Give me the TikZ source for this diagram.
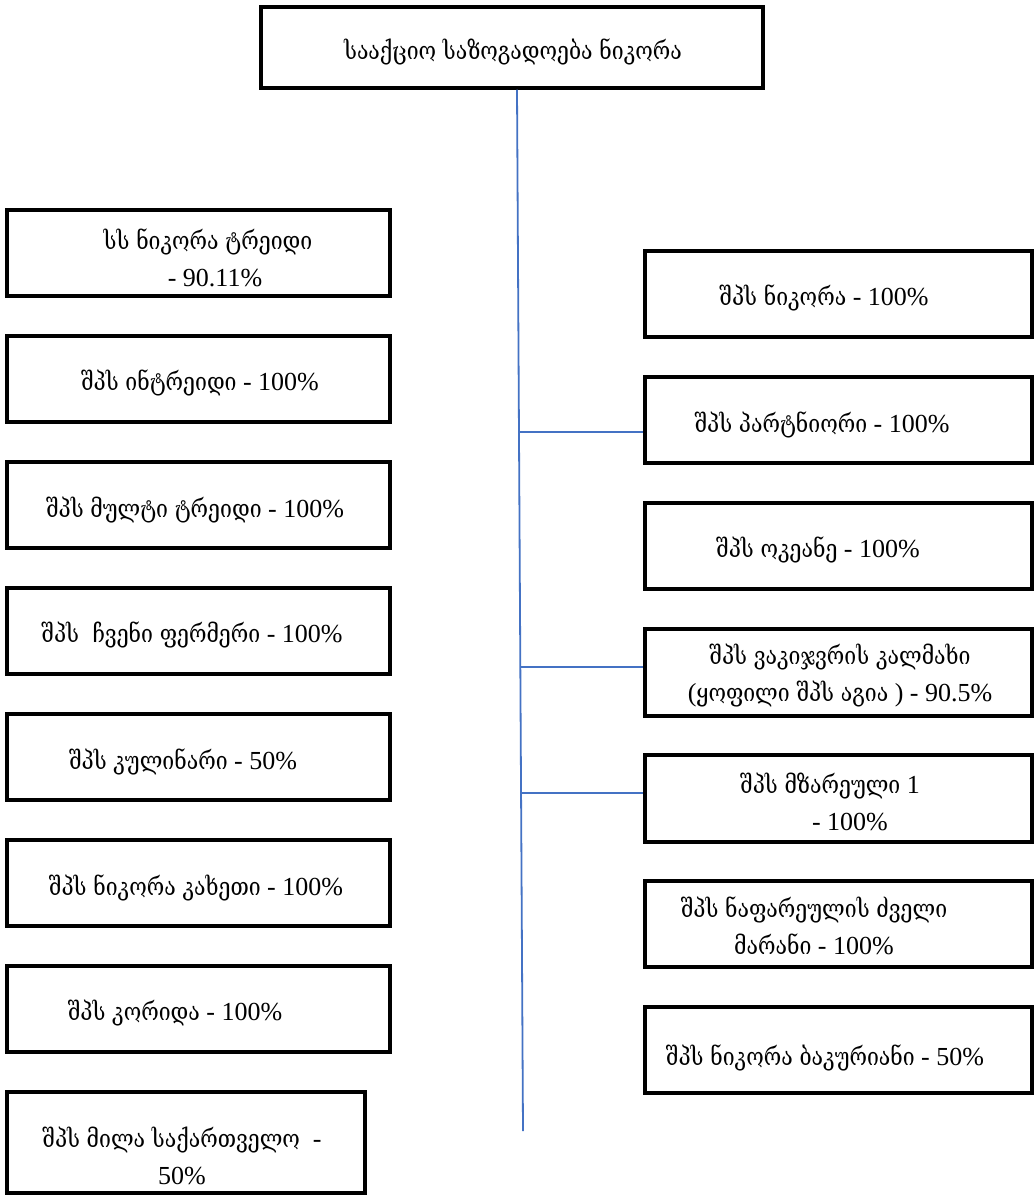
\documentclass[tikz,border=0pt]{standalone}
\usepackage{fontspec}
\setmainfont{Liberation Serif}
\newfontfamily\geoserif[Scale=0.95,FakeStretch=0.86]{DejaVu Serif}
\newfontfamily\geosans[Scale=0.95,FakeStretch=0.86]{DejaVu Sans}
\newcommand\geo{\geoserif\iffontchar\font"10D0 \else\geosans\fi}
\definecolor{linkblue}{RGB}{68,114,196}
\begin{document}
\begin{tikzpicture}[x=1pt,y=-1pt,
  box/.style={draw=black, line width=3.5pt, rectangle, inner sep=0pt},
  lbox/.style={box, minimum width=383pt, minimum height=86pt},
  rbox/.style={box, minimum width=387pt, minimum height=86pt},
  txt/.style={font=\fontsize{26}{37}\selectfont, align=center, inner sep=0pt},
  ttl/.style={font=\fontsize{26}{30}\selectfont, align=center, inner sep=0pt},
  link/.style={draw=linkblue, line width=1.8pt}]
\useasboundingbox[fill=white] (0,0) rectangle (1034,1198);
% top
\node[box, minimum width=502pt, minimum height=81pt] (top) at (512,47.5) {};
\node[ttl] (ttop) at (513,52) {{\geo სააქციო საზოგადოება ნიკორა}};
% left boxes
\node[lbox] (l1) at (198.5,253) {};
\node[lbox] (l2) at (198.5,379) {};
\node[lbox] (l3) at (198.5,505) {};
\node[lbox] (l4) at (198.5,631) {};
\node[lbox] (l5) at (198.5,757) {};
\node[lbox] (l6) at (198.5,883) {};
\node[lbox] (l7) at (198.5,1009) {};
\node[box, minimum width=358pt, minimum height=101pt] (l8) at (186,1142.5) {};
\node[txt] (tl1) at (208,258) {{\geo სს ნიკორა ტრეიდი}\\\hspace*{14pt}- 90.11\%};
\node[txt] (tl2) at (200,383) {{\geo შპს ინტრეიდი} - 100\%};
\node[txt] (tl3) at (195,510) {{\geo შპს მულტი ტრეიდი} - 100\%};
\node[txt] (tl4) at (192,635) {{\geo შპს~ ჩვენი ფერმერი} - 100\%};
\node[txt] (tl5) at (183,762) {{\geo შპს კულინარი} - 50\%};
\node[txt] (tl6) at (196,888) {{\geo შპს ნიკორა კახეთი} - 100\%};
\node[txt] (tl7) at (175,1013) {{\geo შპს კორიდა} - 100\%};
\node[txt] (tl8) at (182,1156) {{\geo შპს მილა საქართველო}~ -\\50\%};
% right boxes
\node[rbox] (r1) at (838.5,294) {};
\node[rbox] (r2) at (838.5,420) {};
\node[rbox] (r3) at (838.5,546) {};
\node[rbox, minimum height=87pt] (r4) at (838.5,672.5) {};
\node[rbox, minimum height=87pt] (r5) at (838.5,798.5) {};
\node[rbox] (r6) at (838.5,924) {};
\node[rbox] (r7) at (838.5,1050) {};
\node[txt] (tr1) at (824,298) {{\geo შპს ნიკორა} - 100\%};
\node[txt] (tr2) at (822,425) {{\geo შპს პარტნიორი} - 100\%};
\node[txt] (tr3) at (818,550) {{\geo შპს ოკეანე} - 100\%};
\node[txt] (tr4) at (840,676) {{\geo შპს ვაკიჯვრის კალმახი}\\({\geo ყოფილი შპს აგია} ) - 90.5\%};
\node[txt] (tr5) at (830,802) {{\geo შპს მზარეული} 1\\\hspace*{40pt}- 100\%};
\node[txt] (tr6) at (814,926) {{\geo შპს ნაფარეულის ძველი}\\{\geo მარანი} - 100\%};
\node[txt] (tr7) at (825,1058) {{\geo შპს ნიკორა ბაკურიანი} - 50\%};
% trunk and connectors
\coordinate (trunkend) at (523,1131);
\coordinate (j1) at (519,432);
\coordinate (j2) at (520.3,667);
\coordinate (j3) at (521,793);
\draw[link] (top.south -| 517,0) -- (trunkend);
\draw[link] (j1) -- (j1 -| r2.west);
\draw[link] (j2) -- (j2 -| r4.west);
\draw[link] (j3) -- (j3 -| r5.west);
\end{tikzpicture}
\end{document}
